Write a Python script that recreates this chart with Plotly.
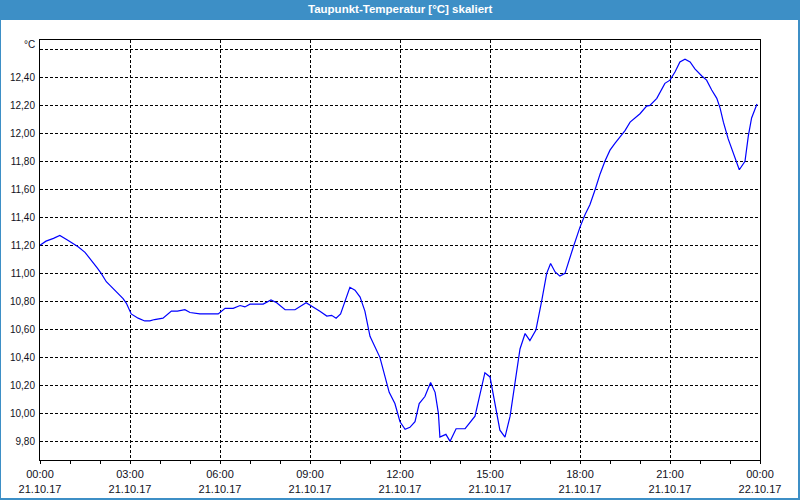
import plotly.graph_objects as go

# time in hours since 21.10.17 00:00, dew point temperature in °C
hours = [0.0, 0.2, 0.45, 0.66, 0.9, 1.27, 1.5, 1.71, 1.9, 2.04, 2.21, 2.35, 2.49, 2.65, 2.77, 2.88,
         3.04, 3.27, 3.49, 3.66, 3.82, 4.1, 4.38, 4.58, 4.83, 5.0, 5.33, 5.61, 5.94, 6.17, 6.44,
         6.67, 6.83, 7.0, 7.44, 7.7, 7.89, 8.17, 8.5, 8.87, 9.11, 9.33, 9.56, 9.72, 9.87, 10.02,
         10.33, 10.5, 10.67, 10.83, 11.0, 11.33, 11.64, 11.83, 12.0, 12.17, 12.33, 12.5, 12.64,
         12.83, 13.02, 13.17, 13.28, 13.33, 13.53, 13.67, 13.87, 14.17, 14.5, 14.83, 15.0, 15.17,
         15.33, 15.5, 15.67, 16.0, 16.17, 16.33, 16.53, 16.72, 16.89, 17.02, 17.17, 17.33, 17.5,
         17.78, 18.0, 18.17, 18.33, 18.5, 18.67, 18.83, 19.0, 19.17, 19.33, 19.5, 19.67, 19.78,
         20.0, 20.22, 20.33, 20.56, 20.83, 21.0, 21.17, 21.33, 21.5, 21.67, 21.83, 22.06, 22.22,
         22.39, 22.56, 22.67, 22.78, 22.94, 23.11, 23.31, 23.5, 23.61, 23.72, 23.9]
dewpoint = [11.20, 11.23, 11.25, 11.27, 11.24, 11.19, 11.15, 11.095, 11.04, 11.0, 10.94, 10.91, 10.88,
            10.85, 10.82, 10.786, 10.71, 10.68, 10.66, 10.66, 10.67, 10.68, 10.73, 10.73, 10.74,
            10.72, 10.71, 10.71, 10.71, 10.75, 10.75, 10.77, 10.76, 10.78, 10.78, 10.81, 10.79,
            10.74, 10.74, 10.79, 10.76, 10.73, 10.695, 10.70, 10.68, 10.71, 10.90, 10.88, 10.83,
            10.73, 10.55, 10.40, 10.15, 10.07, 9.94, 9.886, 9.90, 9.94, 10.07, 10.12, 10.22, 10.15,
            10.0, 9.83, 9.85, 9.80, 9.89, 9.89, 9.98, 10.29, 10.26, 10.07, 9.88, 9.83, 9.98, 10.46,
            10.57, 10.52, 10.595, 10.80, 11.0, 11.07, 11.01, 10.98, 11.0, 11.19, 11.33, 11.42, 11.49,
            11.595, 11.71, 11.80, 11.88, 11.93, 11.97, 12.02, 12.08, 12.10, 12.14, 12.195, 12.20,
            12.25, 12.357, 12.38, 12.44, 12.51, 12.53, 12.51, 12.46, 12.41, 12.38, 12.31, 12.25,
            12.18, 12.08, 11.96, 11.86, 11.74, 11.80, 11.98, 12.11, 12.21]

x_tickvals = [0, 3, 6, 9, 12, 15, 18, 21, 24]
x_ticktext = ["00:00<br>21.10.17", "03:00<br>21.10.17", "06:00<br>21.10.17", "09:00<br>21.10.17",
              "12:00<br>21.10.17", "15:00<br>21.10.17", "18:00<br>21.10.17", "21:00<br>21.10.17",
              "00:00<br>22.10.17"]
y_tickvals = [9.8, 10.0, 10.2, 10.4, 10.6, 10.8, 11.0, 11.2, 11.4, 11.6, 11.8, 12.0, 12.2, 12.4, 12.6]
y_ticktext = ["9,80", "10,00", "10,20", "10,40", "10,60", "10,80", "11,00", "11,20", "11,40",
              "11,60", "11,80", "12,00", "12,20", "12,40", ""]

title_text = "<b>Taupunkt-Temperatur [°C] skaliert</b>"
unit_text = "°C"

BLUE_FRAME = "#3d8fc6"
FONT = "Liberation Sans"

fig = go.Figure()
fig.add_trace(go.Scatter(x=hours, y=dewpoint, mode="lines",
                         line=dict(color="#0000ff", width=1.2), hoverinfo="skip"))

fig.update_layout(
    width=800, height=500,
    margin=dict(l=40, r=40, t=40, b=40, autoexpand=False),
    paper_bgcolor="white", plot_bgcolor="white",
    showlegend=False,
    font=dict(family=FONT, size=10, color="#111122"),
    xaxis=dict(range=[0, 24], tickvals=x_tickvals, ticktext=x_ticktext, automargin=False,
               showgrid=True, gridcolor="black", gridwidth=1, griddash="3px,2px",
               showline=True, linecolor="black", linewidth=1, mirror=True,
               ticks="outside", ticklen=3, tickcolor="black",
               minor=dict(dtick=1, tick0=0, ticks="outside", ticklen=3, tickcolor="black",
                          showgrid=False),
               zeroline=False, fixedrange=True, tickfont=dict(size=11),
               ticklabelstandoff=1),
    yaxis=dict(range=[9.6667, 12.6667], tickvals=y_tickvals, ticktext=y_ticktext, automargin=False,
               showgrid=True, gridcolor="black", gridwidth=1, griddash="3px,2px",
               showline=True, linecolor="black", linewidth=1, mirror=True,
               ticks="", zeroline=False, fixedrange=True, ticklabelstandoff=2,
               tickfont=dict(size=10)),
    shapes=[
        dict(type="rect", xref="paper", yref="paper", x0=-0.05556, x1=1.05556,
             y0=1.04762, y1=1.09524, fillcolor=BLUE_FRAME, line=dict(width=0), layer="below"),
        dict(type="rect", xref="paper", yref="paper", x0=-0.05556, x1=-0.05417,
             y0=-0.09524, y1=1.05, fillcolor=BLUE_FRAME, line=dict(width=0), layer="below"),
        dict(type="rect", xref="paper", yref="paper", x0=1.05278, x1=1.05556,
             y0=-0.09524, y1=1.05, fillcolor=BLUE_FRAME, line=dict(width=0), layer="below"),
        dict(type="rect", xref="paper", yref="paper", x0=-0.05556, x1=1.05556,
             y0=-0.09524, y1=-0.09048, fillcolor=BLUE_FRAME, line=dict(width=0), layer="below"),
    ],
    annotations=[
        dict(text=title_text, xref="paper", yref="paper", x=0.5, y=1.0738,
             xanchor="center", yanchor="middle", showarrow=False,
             font=dict(family=FONT, size=11.5, color="white")),
        dict(text=unit_text, xref="paper", yref="paper", x=-0.0042, y=0.989,
             xanchor="right", yanchor="middle", showarrow=False,
             font=dict(family=FONT, size=10, color="#111122")),
    ],
)

fig.write_html("out.html")
